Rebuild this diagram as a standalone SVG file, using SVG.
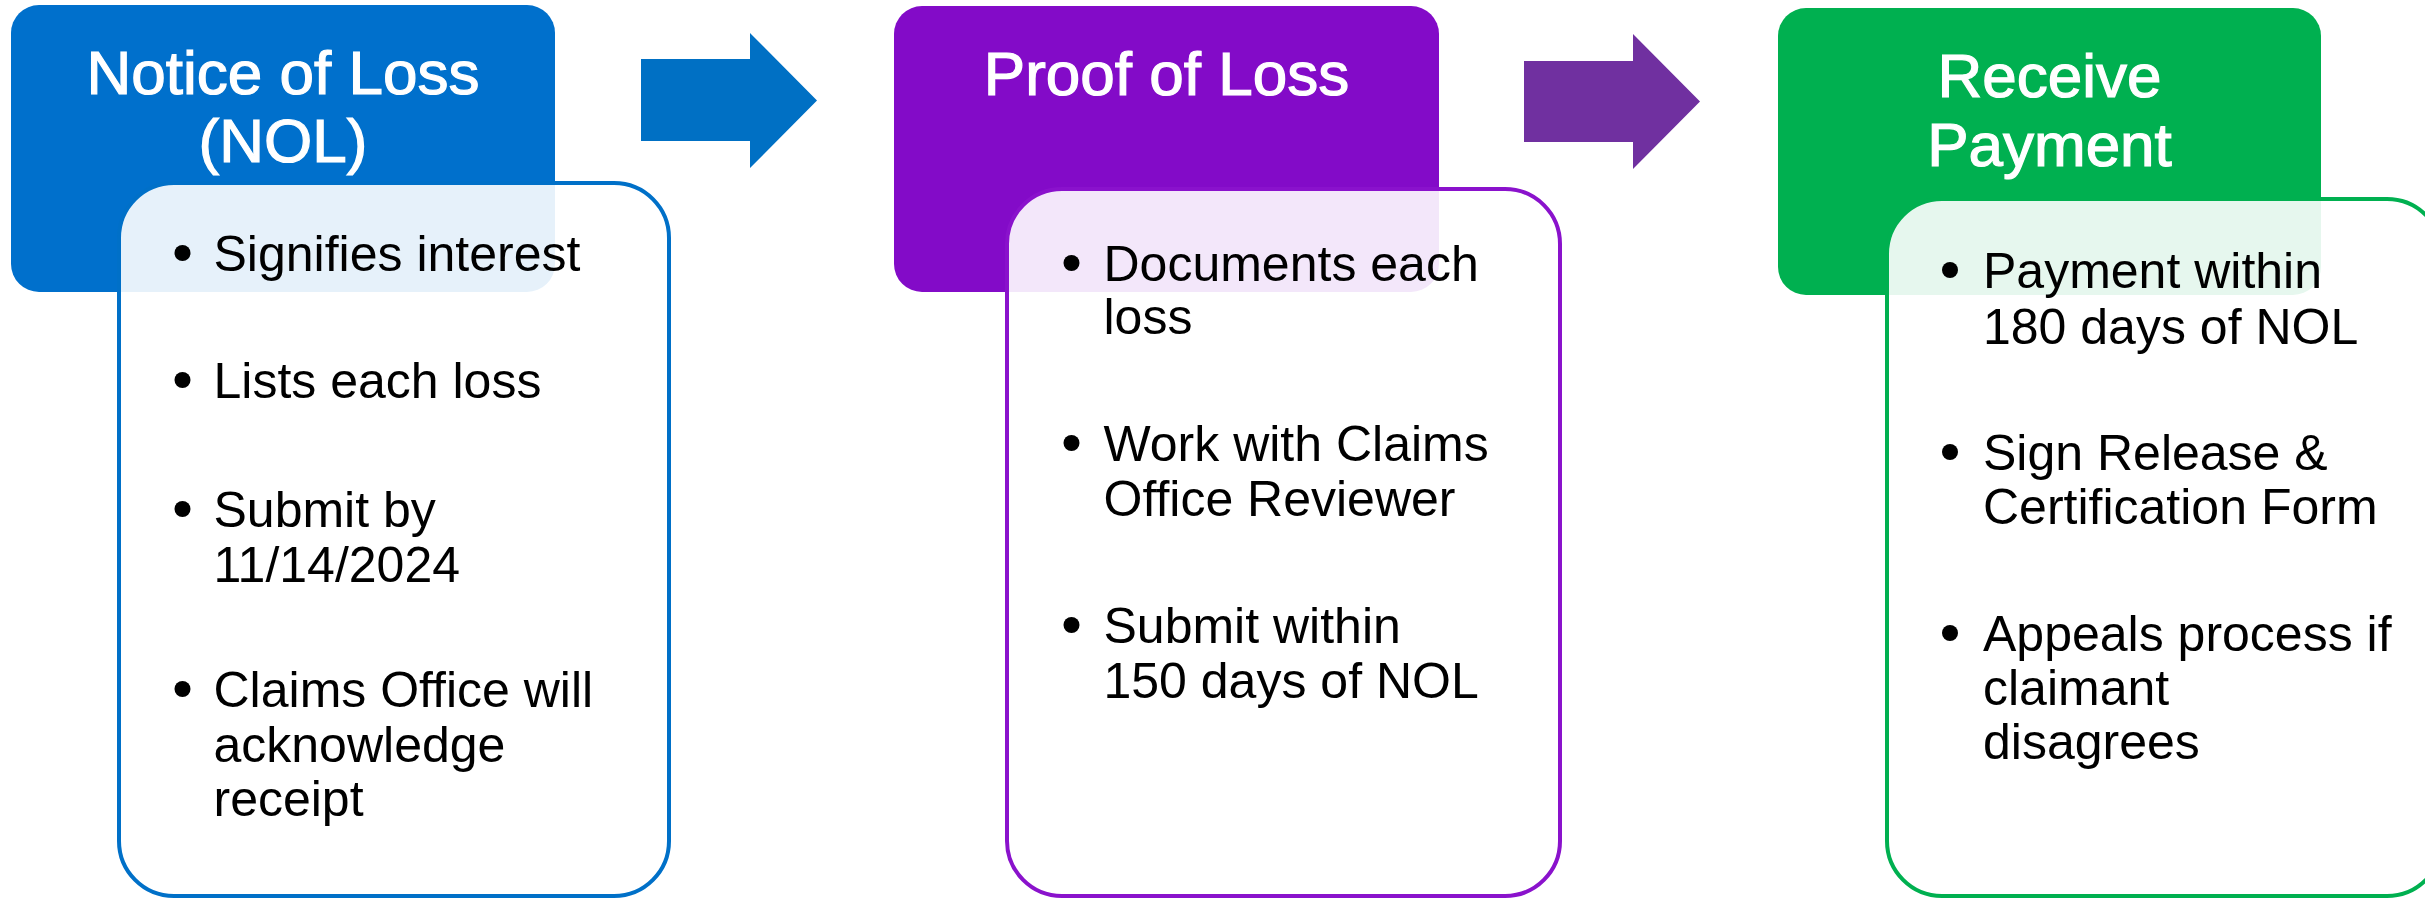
<svg xmlns="http://www.w3.org/2000/svg" width="2425" height="898" viewBox="0 0 2425 898">
<style>
.title{font-family:"Liberation Sans",Arial,sans-serif;font-size:62px;fill:#ffffff;stroke:#ffffff;stroke-width:1.2px;text-anchor:middle}
.body{font-family:"Liberation Sans",Arial,sans-serif;font-size:50px;fill:#000000}
.box{fill:#ffffff;fill-opacity:0.9;stroke-width:4}
.dot{fill:#000000}
</style>
<rect width="2425" height="898" fill="#ffffff"/>
<g id="connectors">
<polygon points="641,59 750,59 750,33 817,100.5 750,168 750,141 641,141" fill="#0070C4"/>
<polygon points="1524,61 1633,61 1633,34 1700,101.5 1633,169 1633,142 1524,142" fill="#7030A0"/>
</g>
<g id="node-nol">
<rect x="11" y="5" width="544" height="287" rx="28" fill="#0070CC"/>
<text class="title" x="283" y="94">Notice of Loss</text>
<text class="title" x="283" y="162">(NOL)</text>
<rect class="box" x="119" y="183" width="550" height="713" rx="55" stroke="#0070C8"/>
<circle class="dot" cx="182.5" cy="253" r="8"/>
<text class="body" x="213.5" y="271">Signifies interest</text>
<circle class="dot" cx="182.5" cy="380" r="8"/>
<text class="body" x="213.5" y="398">Lists each loss</text>
<circle class="dot" cx="182.5" cy="509" r="8"/>
<text class="body" x="213.5" y="527">Submit by</text>
<text class="body" x="213.5" y="582">11/14/2024</text>
<circle class="dot" cx="182.5" cy="689" r="8"/>
<text class="body" x="213.5" y="707">Claims Office will</text>
<text class="body" x="213.5" y="762">acknowledge</text>
<text class="body" x="213.5" y="816">receipt</text>
</g>
<g id="node-pol">
<rect x="894" y="6" width="545" height="286" rx="28" fill="#830BC8"/>
<text class="title" x="1166.5" y="94.5">Proof of Loss</text>
<rect class="box" x="1007" y="189" width="553" height="707" rx="55" stroke="#8A12CC"/>
<circle class="dot" cx="1071.5" cy="263" r="8"/>
<text class="body" x="1103.5" y="281">Documents each</text>
<text class="body" x="1103.5" y="334">loss</text>
<circle class="dot" cx="1071.5" cy="443" r="8"/>
<text class="body" x="1103.5" y="461">Work with Claims</text>
<text class="body" x="1103.5" y="515.5">Office Reviewer</text>
<circle class="dot" cx="1071.5" cy="625" r="8"/>
<text class="body" x="1103.5" y="643">Submit within</text>
<text class="body" x="1103.5" y="697.5">150 days of NOL</text>
</g>
<g id="node-payment">
<rect x="1778" y="8" width="543" height="287" rx="28" fill="#00B050"/>
<text class="title" x="2049.5" y="97">Receive</text>
<text class="title" x="2049.5" y="166">Payment</text>
<rect class="box" x="1887" y="199" width="555" height="697" rx="55" stroke="#00B050"/>
<circle class="dot" cx="1950" cy="270" r="8"/>
<text class="body" x="1983" y="288">Payment within</text>
<text class="body" x="1983" y="343.5">180 days of NOL</text>
<circle class="dot" cx="1950" cy="452" r="8"/>
<text class="body" x="1983" y="469.5">Sign Release &amp;</text>
<text class="body" x="1983" y="524">Certification Form</text>
<circle class="dot" cx="1950" cy="633" r="8"/>
<text class="body" x="1983" y="651">Appeals process if</text>
<text class="body" x="1983" y="704.5">claimant</text>
<text class="body" x="1983" y="759">disagrees</text>
</g>
</svg>
